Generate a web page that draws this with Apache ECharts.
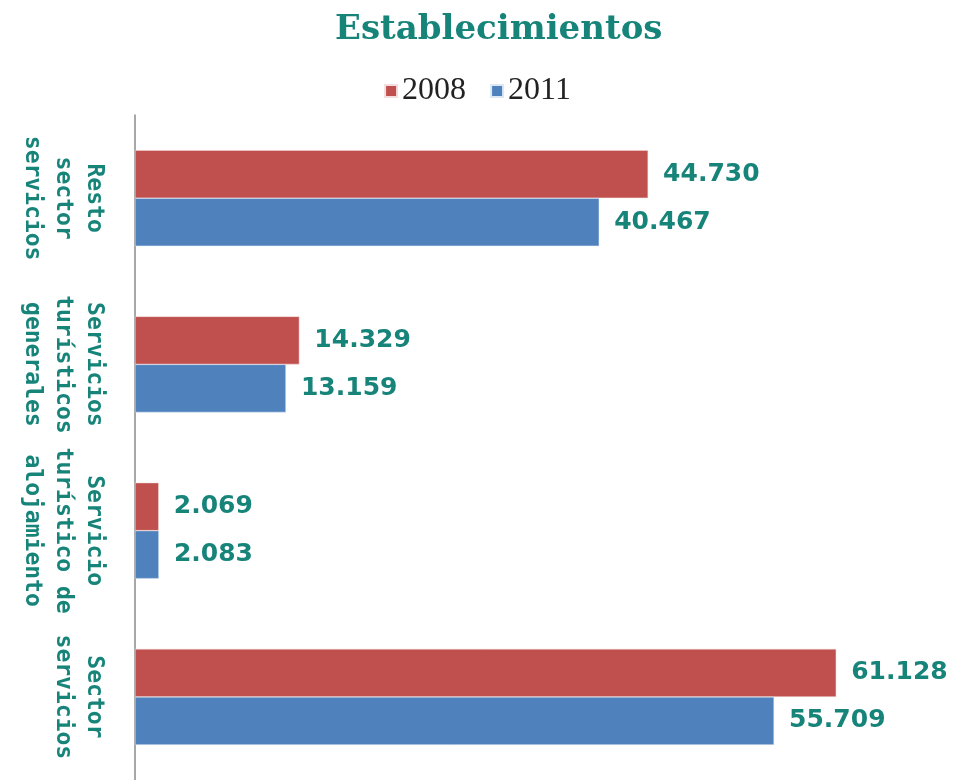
<!DOCTYPE html>
<html>
<head>
<meta charset="utf-8">
<script src="https://cdn.jsdelivr.net/npm/echarts@6/dist/echarts.min.js"></script>
<style>
    html, body { margin: 0; padding: 0; background: #fff; }
    #main { width: 955px; height: 780px; }
</style>
</head>
<body>
<div id="main"></div>
<script>
// categorias de arriba hacia abajo
const categorias = [
    'Resto\nsector\nservicios',
    'Servicios\nturísticos\ngenerales',
    'Servicio\nturístico de\nalojamiento',
    'Sector\nservicios'
];
const valores2008 = [44730, 14329, 2069, 61128];
const valores2011 = [40467, 13159, 2083, 55709];

const teal = '#17847a';

// 44730 -> "44.730"
function fmt(v) {
    return String(v).replace(/\B(?=(\d{3})+(?!\d))/g, '.');
}

const chart = echarts.init(document.getElementById('main'));
const labelStyle = {
    show: true,
    position: 'right',
    distance: 15,
    color: teal,
    fontFamily: 'DejaVu Sans',
    fontWeight: 'bold',
    fontSize: 25,
    formatter: p => fmt(p.value)
};
chart.setOption({
    animation: false,
    title: {
        text: 'Establecimientos',
        left: 330,
        top: 8,
        textStyle: {
            color: teal,
            fontFamily: 'DejaVu Serif',
            fontWeight: 'bold',
            fontSize: 34
        }
    },
    legend: {
        top: 70,
        left: 'center',
        itemWidth: 12,
        itemHeight: 12,
        itemGap: 24,
        icon: 'rect',
        textStyle: {
            color: '#222',
            fontFamily: 'Liberation Serif',
            fontSize: 32
        },
        data: ['2008', '2011']
    },
    grid: {
        left: 135,
        top: 115,
        width: 803,
        height: 672
    },
    xAxis: {
        type: 'value',
        min: 0,
        max: 70000,
        show: false,
        splitLine: { show: false }
    },
    yAxis: {
        type: 'category',
        inverse: true,
        data: categorias,
        axisLine: { lineStyle: { color: '#8a8a8a', width: 1.5 } },
        axisTick: { show: false },
        axisLabel: {
            interval: 0,
            rotate: -90,
            margin: 26,
            color: teal,
            fontFamily: 'DejaVu Sans Mono',
            fontWeight: 'bold',
            fontSize: 23,
            lineHeight: 31,
            align: 'center'
        }
    },
    series: [
        {
            name: '2008',
            type: 'bar',
            data: valores2008,
            barWidth: 48,
            barGap: '0%',
            itemStyle: { color: '#c0504d', borderColor: '#f2dede', borderWidth: 0.5 },
            label: labelStyle
        },
        {
            name: '2011',
            type: 'bar',
            data: valores2011,
            barWidth: 48,
            itemStyle: { color: '#4f81bd', borderColor: '#dde8f4', borderWidth: 0.5 },
            label: labelStyle
        }
    ]
});
window.addEventListener('resize', () => chart.resize());
</script>
</body>
</html>
